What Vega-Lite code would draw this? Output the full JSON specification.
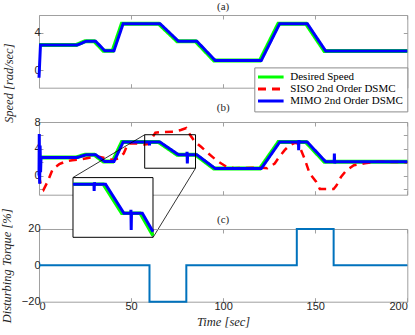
{
 "$schema": "https://vega.github.io/schema/vega-lite/v6.json",
 "background": "white",
 "padding": {"left": 0, "top": 0, "right": 0, "bottom": 0},
 "bounds": "flush",
 "spacing": 34,
 "config": {
  "view": {"stroke": "#a0a0a0", "strokeWidth": 1},
  "axis": {"domain": false, "grid": false, "ticks": true, "tickSize": -4, "tickColor": "#a0a0a0", "tickWidth": 1, "labelFont": "Liberation Sans", "labelFontSize": 11, "labelColor": "#262626", "labelPadding": 3, "titleFont": "Liberation Serif, Times New Roman, DejaVu Serif, serif", "titleFontSize": 12.5, "titleFontStyle": "italic", "titleFontWeight": "normal", "titleColor": "#262626"},
  "title": {"font": "Liberation Serif, Times New Roman, DejaVu Serif, serif", "fontSize": 11, "fontWeight": "normal", "color": "#262626", "offset": 3},
  "legend": {"orient": "none", "legendX": 215.3, "legendY": 52.4, "fillColor": "white", "strokeColor": "#8c8c8c", "padding": 4, "labelFont": "Liberation Serif, Times New Roman, DejaVu Serif, serif", "labelFontSize": 11, "labelColor": "black", "labelOffset": 14, "symbolType": "M-3.2,0H3.2", "symbolSize": 64, "symbolOffset": 7, "symbolStrokeWidth": 3, "rowPadding": -1}
 },
 "datasets": {
  "desired": [
   {"s": "Desired Speed", "t": 0, "v": 2.7}, {"s": "Desired Speed", "t": 20, "v": 2.7},
   {"s": "Desired Speed", "t": 25, "v": 3.12}, {"s": "Desired Speed", "t": 30, "v": 3.12},
   {"s": "Desired Speed", "t": 35, "v": 2.1}, {"s": "Desired Speed", "t": 40, "v": 2.1},
   {"s": "Desired Speed", "t": 45, "v": 5}, {"s": "Desired Speed", "t": 65, "v": 5},
   {"s": "Desired Speed", "t": 75, "v": 3.12}, {"s": "Desired Speed", "t": 85, "v": 3.12},
   {"s": "Desired Speed", "t": 95, "v": 1.05}, {"s": "Desired Speed", "t": 120, "v": 1.05},
   {"s": "Desired Speed", "t": 130, "v": 5}, {"s": "Desired Speed", "t": 145, "v": 5},
   {"s": "Desired Speed", "t": 155, "v": 2.06}, {"s": "Desired Speed", "t": 200, "v": 2.06}
  ],
  "blueA": [
   {"s": "MIMO 2nd Order DSMC", "t": 0, "v": -0.8}, {"s": "MIMO 2nd Order DSMC", "t": 0.8, "v": 2.7},
   {"s": "MIMO 2nd Order DSMC", "t": 20.7, "v": 2.7}, {"s": "MIMO 2nd Order DSMC", "t": 25.7, "v": 3.12},
   {"s": "MIMO 2nd Order DSMC", "t": 30.7, "v": 3.12}, {"s": "MIMO 2nd Order DSMC", "t": 35.7, "v": 2.1},
   {"s": "MIMO 2nd Order DSMC", "t": 40.7, "v": 2.1}, {"s": "MIMO 2nd Order DSMC", "t": 45.7, "v": 5},
   {"s": "MIMO 2nd Order DSMC", "t": 65.7, "v": 5}, {"s": "MIMO 2nd Order DSMC", "t": 75.7, "v": 3.12},
   {"s": "MIMO 2nd Order DSMC", "t": 85.7, "v": 3.12}, {"s": "MIMO 2nd Order DSMC", "t": 95.7, "v": 1.05},
   {"s": "MIMO 2nd Order DSMC", "t": 120.7, "v": 1.05}, {"s": "MIMO 2nd Order DSMC", "t": 130.7, "v": 5},
   {"s": "MIMO 2nd Order DSMC", "t": 145.7, "v": 5}, {"s": "MIMO 2nd Order DSMC", "t": 155.7, "v": 2.06},
   {"s": "MIMO 2nd Order DSMC", "t": 200, "v": 2.06}
  ],
  "blueB": [
   {"s": "MIMO 2nd Order DSMC", "t": 0, "v": 0}, {"s": "MIMO 2nd Order DSMC", "t": 0.15, "v": 6.2},
   {"s": "MIMO 2nd Order DSMC", "t": 0.35, "v": -1.2}, {"s": "MIMO 2nd Order DSMC", "t": 0.6, "v": 4.5},
   {"s": "MIMO 2nd Order DSMC", "t": 0.85, "v": 0.5}, {"s": "MIMO 2nd Order DSMC", "t": 1.1, "v": 2.7},
   {"s": "MIMO 2nd Order DSMC", "t": 20.7, "v": 2.7}, {"s": "MIMO 2nd Order DSMC", "t": 25.7, "v": 3.12},
   {"s": "MIMO 2nd Order DSMC", "t": 30.7, "v": 3.12}, {"s": "MIMO 2nd Order DSMC", "t": 35.7, "v": 2.1},
   {"s": "MIMO 2nd Order DSMC", "t": 40.7, "v": 2.1}, {"s": "MIMO 2nd Order DSMC", "t": 45.7, "v": 5},
   {"s": "MIMO 2nd Order DSMC", "t": 59.9, "v": 5}, {"s": "MIMO 2nd Order DSMC", "t": 60, "v": 4.5},
   {"s": "MIMO 2nd Order DSMC", "t": 60.15, "v": 5.15}, {"s": "MIMO 2nd Order DSMC", "t": 60.3, "v": 5},
   {"s": "MIMO 2nd Order DSMC", "t": 65.7, "v": 5}, {"s": "MIMO 2nd Order DSMC", "t": 75.7, "v": 3.12},
   {"s": "MIMO 2nd Order DSMC", "t": 80.3, "v": 3.12}, {"s": "MIMO 2nd Order DSMC", "t": 80.4, "v": 3.55},
   {"s": "MIMO 2nd Order DSMC", "t": 80.55, "v": 1.8}, {"s": "MIMO 2nd Order DSMC", "t": 80.7, "v": 3.12},
   {"s": "MIMO 2nd Order DSMC", "t": 85.7, "v": 3.12}, {"s": "MIMO 2nd Order DSMC", "t": 95.7, "v": 1.05},
   {"s": "MIMO 2nd Order DSMC", "t": 120.7, "v": 1.05}, {"s": "MIMO 2nd Order DSMC", "t": 130.7, "v": 5},
   {"s": "MIMO 2nd Order DSMC", "t": 140.9, "v": 5}, {"s": "MIMO 2nd Order DSMC", "t": 141, "v": 3.8},
   {"s": "MIMO 2nd Order DSMC", "t": 141.15, "v": 5.3}, {"s": "MIMO 2nd Order DSMC", "t": 141.3, "v": 5},
   {"s": "MIMO 2nd Order DSMC", "t": 145.7, "v": 5}, {"s": "MIMO 2nd Order DSMC", "t": 155.7, "v": 2.06},
   {"s": "MIMO 2nd Order DSMC", "t": 160.3, "v": 2.06}, {"s": "MIMO 2nd Order DSMC", "t": 160.4, "v": 3.3},
   {"s": "MIMO 2nd Order DSMC", "t": 160.55, "v": 1.8}, {"s": "MIMO 2nd Order DSMC", "t": 160.7, "v": 2.06},
   {"s": "MIMO 2nd Order DSMC", "t": 200, "v": 2.06}
  ],
  "redB": [
   {"s": "SISO 2nd Order DSMC", "t": 0, "v": 0}, {"s": "SISO 2nd Order DSMC", "t": 1, "v": -1.4},
   {"s": "SISO 2nd Order DSMC", "t": 2.5, "v": -2.1}, {"s": "SISO 2nd Order DSMC", "t": 4.5, "v": -1.0},
   {"s": "SISO 2nd Order DSMC", "t": 7.5, "v": 1.0}, {"s": "SISO 2nd Order DSMC", "t": 11, "v": 1.7},
   {"s": "SISO 2nd Order DSMC", "t": 14, "v": 2.06}, {"s": "SISO 2nd Order DSMC", "t": 18, "v": 2.3},
   {"s": "SISO 2nd Order DSMC", "t": 23, "v": 2.45}, {"s": "SISO 2nd Order DSMC", "t": 28, "v": 2.7},
   {"s": "SISO 2nd Order DSMC", "t": 32, "v": 2.85}, {"s": "SISO 2nd Order DSMC", "t": 36, "v": 2.6},
   {"s": "SISO 2nd Order DSMC", "t": 40, "v": 2.35}, {"s": "SISO 2nd Order DSMC", "t": 43.5, "v": 2.6},
   {"s": "SISO 2nd Order DSMC", "t": 46, "v": 3.3}, {"s": "SISO 2nd Order DSMC", "t": 48.3, "v": 4.8},
   {"s": "SISO 2nd Order DSMC", "t": 53, "v": 4.8}, {"s": "SISO 2nd Order DSMC", "t": 57, "v": 4.65},
   {"s": "SISO 2nd Order DSMC", "t": 59.3, "v": 4.7}, {"s": "SISO 2nd Order DSMC", "t": 61, "v": 5.4},
   {"s": "SISO 2nd Order DSMC", "t": 63.2, "v": 6.4}, {"s": "SISO 2nd Order DSMC", "t": 66, "v": 6.5},
   {"s": "SISO 2nd Order DSMC", "t": 73, "v": 6.55}, {"s": "SISO 2nd Order DSMC", "t": 77, "v": 6.8},
   {"s": "SISO 2nd Order DSMC", "t": 80, "v": 7.1}, {"s": "SISO 2nd Order DSMC", "t": 82, "v": 6.1},
   {"s": "SISO 2nd Order DSMC", "t": 84.5, "v": 5.1}, {"s": "SISO 2nd Order DSMC", "t": 88, "v": 4.3},
   {"s": "SISO 2nd Order DSMC", "t": 92, "v": 3.3}, {"s": "SISO 2nd Order DSMC", "t": 96.3, "v": 2.3},
   {"s": "SISO 2nd Order DSMC", "t": 99, "v": 1.8}, {"s": "SISO 2nd Order DSMC", "t": 102, "v": 1.3},
   {"s": "SISO 2nd Order DSMC", "t": 106, "v": 1.1}, {"s": "SISO 2nd Order DSMC", "t": 112, "v": 1.15},
   {"s": "SISO 2nd Order DSMC", "t": 120, "v": 1.2}, {"s": "SISO 2nd Order DSMC", "t": 124, "v": 1.1},
   {"s": "SISO 2nd Order DSMC", "t": 128, "v": 1.8}, {"s": "SISO 2nd Order DSMC", "t": 130, "v": 2.6},
   {"s": "SISO 2nd Order DSMC", "t": 133.4, "v": 3.8}, {"s": "SISO 2nd Order DSMC", "t": 136, "v": 4.5},
   {"s": "SISO 2nd Order DSMC", "t": 139, "v": 4.9}, {"s": "SISO 2nd Order DSMC", "t": 140.5, "v": 4.8},
   {"s": "SISO 2nd Order DSMC", "t": 142, "v": 4.0}, {"s": "SISO 2nd Order DSMC", "t": 144.2, "v": 2.55},
   {"s": "SISO 2nd Order DSMC", "t": 147, "v": 0.3}, {"s": "SISO 2nd Order DSMC", "t": 150.6, "v": -0.95},
   {"s": "SISO 2nd Order DSMC", "t": 152.5, "v": -2}, {"s": "SISO 2nd Order DSMC", "t": 160, "v": -2},
   {"s": "SISO 2nd Order DSMC", "t": 161.5, "v": -1.5}, {"s": "SISO 2nd Order DSMC", "t": 164, "v": -0.2},
   {"s": "SISO 2nd Order DSMC", "t": 167, "v": 0.8}, {"s": "SISO 2nd Order DSMC", "t": 171, "v": 1.55},
   {"s": "SISO 2nd Order DSMC", "t": 177, "v": 1.85}, {"s": "SISO 2nd Order DSMC", "t": 183, "v": 2.05},
   {"s": "SISO 2nd Order DSMC", "t": 190, "v": 2.05}, {"s": "SISO 2nd Order DSMC", "t": 200, "v": 2.0}
  ],
  "torque": [
   {"t": 0, "v": 0}, {"t": 60, "v": 0}, {"t": 60, "v": -20}, {"t": 80, "v": -20}, {"t": 80, "v": 0},
   {"t": 140, "v": 0}, {"t": 140, "v": 20}, {"t": 160, "v": 20}, {"t": 160, "v": 0}, {"t": 200, "v": 0}
  ],
  "insetGreen": [
   {"t": 48.5, "v": 5}, {"t": 65, "v": 5}, {"t": 75, "v": 3.12}, {"t": 85, "v": 3.12}, {"t": 92, "v": 1.67}
  ],
  "insetBlue": [
   {"t": 48.5, "v": 5}, {"t": 59.9, "v": 5}, {"t": 60, "v": 4.57}, {"t": 60.15, "v": 5.13}, {"t": 60.3, "v": 5},
   {"t": 66.2, "v": 5}, {"t": 76.2, "v": 3.12}, {"t": 79.9, "v": 3.12}, {"t": 80, "v": 3.34},
   {"t": 80.15, "v": 2.04}, {"t": 80.3, "v": 3.12}, {"t": 86.2, "v": 3.12}, {"t": 92, "v": 1.92}
  ]
 },
 "vconcat": [
  {
   "title": {"text": "(a)"},
   "width": 368.3,
   "height": 72.7,
   "layer": [
    {
     "data": {"name": "desired"},
     "mark": {"type": "line", "strokeWidth": 4},
     "encoding": {
      "x": {"field": "t", "type": "quantitative", "scale": {"domain": [0, 200], "nice": false, "zero": false}, "axis": {"values": [0, 50, 100, 150, 200], "labels": false, "title": null}},
      "y": {"field": "v", "type": "quantitative", "scale": {"domain": [-1.87, 5.93], "nice": false, "zero": false}, "axis": {"values": [0, 4], "title": "Speed [rad/sec]", "titleX": -23, "titleY": 67.7}},
      "color": {"field": "s", "type": "nominal", "title": null, "scale": {"domain": ["Desired Speed", "SISO 2nd Order DSMC", "MIMO 2nd Order DSMC"], "range": ["#00ff00", "#ff0000", "#0000ff"]}},
      "strokeDash": {"field": "s", "type": "nominal", "title": null, "scale": {"domain": ["Desired Speed", "SISO 2nd Order DSMC", "MIMO 2nd Order DSMC"], "range": [[1, 0], [8, 6], [1, 0]]}},
      "order": {"value": null}
     }
    },
    {
     "data": {"name": "blueA"},
     "mark": {"type": "line", "strokeWidth": 3},
     "encoding": {
      "x": {"field": "t", "type": "quantitative", "axis": {"orient": "top", "values": [0, 50, 100, 150, 200], "labels": false, "title": null}},
      "y": {"field": "v", "type": "quantitative", "axis": {"orient": "right", "values": [0, 4], "labels": false, "title": null}},
      "color": {"field": "s", "type": "nominal", "title": null},
      "strokeDash": {"field": "s", "type": "nominal", "title": null},
      "order": {"value": null}
     }
    }
   ],
   "resolve": {"axis": {"x": "independent", "y": "independent"}}
  },
  {
   "title": {"text": "(b)"},
   "width": 368.3,
   "height": 72.7,
   "layer": [
    {
     "data": {"name": "desired"},
     "mark": {"type": "line", "strokeWidth": 4},
     "encoding": {
      "x": {"field": "t", "type": "quantitative", "scale": {"domain": [0, 200], "nice": false, "zero": false}, "axis": {"values": [0, 50, 100, 150, 200], "labels": false, "title": null}},
      "y": {"field": "v", "type": "quantitative", "scale": {"domain": [-2.85, 8], "nice": false, "zero": false}, "axis": {"values": [-2, 0, 2, 4, 6, 8], "labelExpr": "datum.value % 4 === 0 ? datum.label : ''", "title": null}},
      "color": {"field": "s", "type": "nominal", "title": null},
      "strokeDash": {"field": "s", "type": "nominal", "title": null},
      "order": {"value": null}
     }
    },
    {
     "data": {"name": "redB"},
     "mark": {"type": "line", "strokeWidth": 2.5},
     "encoding": {
      "x": {"field": "t", "type": "quantitative", "axis": null},
      "y": {"field": "v", "type": "quantitative", "axis": null},
      "color": {"field": "s", "type": "nominal", "title": null},
      "strokeDash": {"field": "s", "type": "nominal", "title": null},
      "order": {"value": null}
     }
    },
    {
     "data": {"name": "blueB"},
     "mark": {"type": "line", "strokeWidth": 3},
     "encoding": {
      "x": {"field": "t", "type": "quantitative", "axis": {"orient": "top", "values": [0, 50, 100, 150, 200], "labels": false, "title": null}},
      "y": {"field": "v", "type": "quantitative", "axis": {"orient": "right", "values": [-2, 0, 2, 4, 6, 8], "labels": false, "title": null}},
      "color": {"field": "s", "type": "nominal", "title": null},
      "strokeDash": {"field": "s", "type": "nominal", "title": null},
      "order": {"value": null}
     }
    },
    {
     "data": {"values": [{}]},
     "mark": {"type": "rect", "fill": null, "fillOpacity": 0, "stroke": "black", "strokeWidth": 1},
     "encoding": {
      "x": {"datum": 57.4, "type": "quantitative", "axis": null},
      "x2": {"datum": 85},
      "y": {"datum": 1.1, "type": "quantitative", "axis": null},
      "y2": {"datum": 6.1}
     }
    },
    {
     "data": {"values": [{}]},
     "mark": {"type": "rule", "color": "black", "strokeWidth": 0.8},
     "encoding": {
      "x": {"datum": 57.4, "type": "quantitative", "axis": null},
      "y": {"datum": 6.1, "type": "quantitative", "axis": null},
      "x2": {"datum": 18.46},
      "y2": {"datum": -0.29}
     }
    },
    {
     "data": {"values": [{}]},
     "mark": {"type": "rule", "color": "black", "strokeWidth": 0.8},
     "encoding": {
      "x": {"datum": 85, "type": "quantitative", "axis": null},
      "y": {"datum": 1.1, "type": "quantitative", "axis": null},
      "x2": {"datum": 61.9},
      "y2": {"datum": -9.24}
     }
    }
   ],
   "resolve": {"axis": {"x": "independent", "y": "independent"}}
  },
  {
   "title": {"text": "(c)", "dy": 51.4},
   "width": 368.3,
   "height": 72.7,
   "layer": [
    {
     "layer": [
      {
       "data": {"name": "torque"},
       "mark": {"type": "line", "color": "#0072bd", "strokeWidth": 2},
       "encoding": {
        "x": {"field": "t", "type": "quantitative", "scale": {"domain": [0, 200], "nice": false, "zero": false}, "axis": {"values": [0, 50, 100, 150, 200], "title": "Time [sec]", "titlePadding": 4}},
        "y": {"field": "v", "type": "quantitative", "scale": {"domain": [-20, 20], "nice": false, "zero": false}, "axis": {"values": [-20, 0, 20], "title": "Disturbing Torque [%]", "titleX": -25}},
        "order": {"value": null}
       }
      },
      {
       "data": {"name": "torque"},
       "mark": {"type": "line", "opacity": 0},
       "encoding": {
        "x": {"field": "t", "type": "quantitative", "axis": {"orient": "top", "values": [0, 50, 100, 150, 200], "labels": false, "title": null}},
        "y": {"field": "v", "type": "quantitative", "axis": {"orient": "right", "values": [-20, 0, 20], "labels": false, "title": null}},
        "order": {"value": null}
       }
      }
     ],
     "resolve": {"axis": {"x": "independent", "y": "independent"}}
    },
    {
     "layer": [
      {
       "data": {"values": [{}]},
       "mark": {"type": "rect", "fill": "white", "stroke": "black", "strokeWidth": 1},
       "encoding": {
        "x": {"datum": 48.5, "type": "quantitative", "scale": {"domain": [48.5, 92], "range": [34, 114], "nice": false, "zero": false}, "axis": null},
        "x2": {"datum": 92},
        "y": {"datum": 1.56, "type": "quantitative", "scale": {"domain": [1.56, 5.43], "range": [8.3, -51.4], "nice": false, "zero": false}, "axis": null},
        "y2": {"datum": 5.43}
       }
      },
      {
       "data": {"name": "insetGreen"},
       "mark": {"type": "line", "color": "#00ff00", "strokeWidth": 3.5},
       "encoding": {
        "x": {"field": "t", "type": "quantitative", "axis": null},
        "y": {"field": "v", "type": "quantitative", "axis": null},
        "order": {"value": null}
       }
      },
      {
       "data": {"name": "insetBlue"},
       "mark": {"type": "line", "color": "#0000ff", "strokeWidth": 3},
       "encoding": {
        "x": {"field": "t", "type": "quantitative", "axis": null},
        "y": {"field": "v", "type": "quantitative", "axis": null},
        "order": {"value": null}
       }
      }
     ]
    }
   ],
   "resolve": {"scale": {"x": "independent", "y": "independent"}, "axis": {"x": "independent", "y": "independent"}}
  }
 ]
}
